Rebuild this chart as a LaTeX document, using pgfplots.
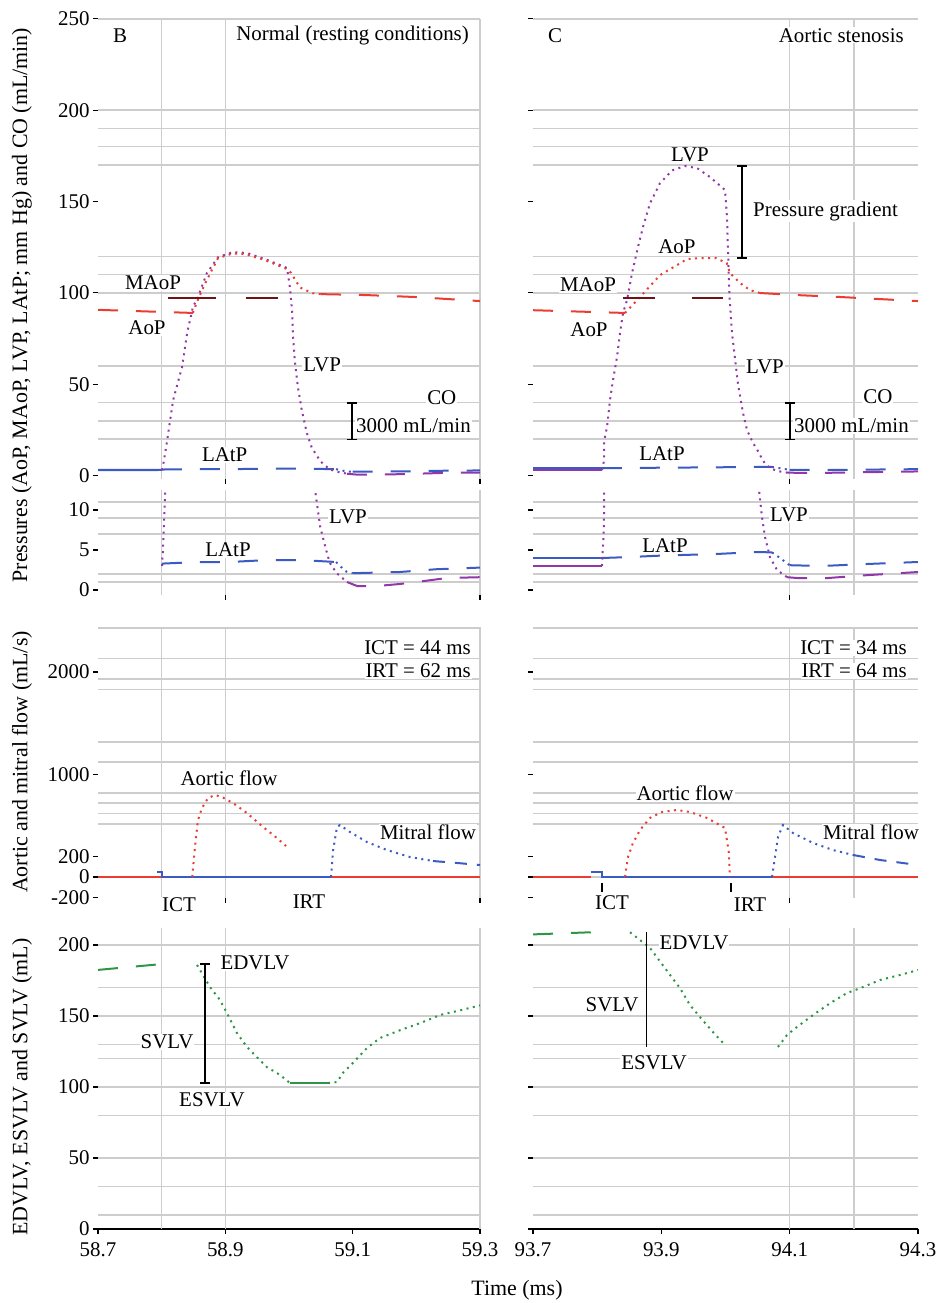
\documentclass[border=0pt]{standalone}
\usepackage{fontspec}
\setmainfont{Liberation Serif}
\usepackage{pgfplots}
\usepackage{pgfplotstable}
\pgfplotsset{compat=1.18}

\definecolor{aored}{RGB}{235,60,50}
\definecolor{lvpur}{RGB}{145,55,170}
\definecolor{laBlue}{RGB}{60,90,195}
\definecolor{maroonc}{RGB}{110,20,25}
\definecolor{vgreen}{RGB}{45,150,70}
\definecolor{gridg}{RGB}{205,205,205}

\newcommand\tlf{\fontsize{21}{24}\selectfont}
\newcommand\alf{\fontsize{22}{26}\selectfont}

\tikzset{
  curve/.style={dash pattern=on 2bp off 4.5bp, line width=2bp},
  flat/.style={dash pattern=on 20bp off 18bp, line width=2bp},
  base/.style={solid, line width=2.2bp},
  lbl/.style={fill=white, inner sep=1bp, font=\tlf},
  bar/.style={black, line width=1.5bp, mark=-, mark size=5bp, mark options={solid, line width=1.5bp}},
}

\pgfplotsset{
  panel/.style={
    scale only axis, anchor=south west,
    axis x line*=bottom, axis y line*=left,
    axis line style={draw=none},
    clip mode=individual,
    tick align=outside,
    major tick length=5bp,
    tick style={black, line width=1.2bp},
    ticklabel style={font=\tlf},
    /pgf/number format/assume math mode=true,
    /pgf/number format/1000 sep={},
    extra tick style={grid=major, major tick length=0pt},
    extra x tick labels={}, extra y tick labels={},
    major grid style={draw=gridg, line width=1.6bp},
  },
  leftp/.style={panel, width=382bp, xmin=58.7, xmax=59.3,
    extra x ticks={58.8,58.9,59.3}},
  rightp/.style={panel, width=385bp, xmin=93.7, xmax=94.3,
    extra x ticks={94.1,94.2}, yticklabels={}},
  timeaxis/.style={x axis line style={draw=black, line width=1.5bp},
    xticklabel style={yshift=-5bp}},
}

% ---------------- Normal (B) ----------------
\pgfplotstableread{
t p
58.700 3.0
58.8005 3.0
}\LVPpreB
\pgfplotstableread{
t p
58.8005 3.0
58.802 5.0
58.808 17.8
58.818 41.3
58.832 59.4
58.840 78.0
58.849 92.2
58.857 97.7
58.871 110.8
58.889 119.6
58.912 122.3
58.934 121.8
58.966 118.0
58.997 113.6
59.002 101.5
59.005 88.9
59.006 78.0
59.009 63.2
59.014 48.4
59.020 35.9
59.028 23.3
59.036 15.0
59.042 11.9
59.049 7.9
59.057 5.4
59.064 3.4
59.075 2.1
59.091 1.0
}\LVPcurB
\pgfplotstableread{
t p
59.091 1.0
59.107 0.5
59.138 0.5
59.174 0.75
59.210 1.1
59.248 1.5
59.300 1.6
}\LVPtailB
\pgfplotstableread{
t p
58.700 3.0
58.8005 3.1
}\LAPpreB
\pgfplotstableread{
t p
58.8005 3.3
58.829 3.4
58.860 3.5
58.907 3.5
58.967 3.75
59.017 3.75
59.074 3.5
}\LAPmainB
\pgfplotstableread{
t p
59.074 3.5
59.080 3.0
59.090 2.3
59.100 2.1
}\LAPcurB
\pgfplotstableread{
t p
59.100 2.1
59.174 2.25
59.232 2.6
59.300 2.8
}\LAPtailB
\pgfplotstableread{
t p
58.700 90.7
58.849 89.0
}\AoPpreB
\pgfplotstableread{
t p
58.849 89.0
58.8555 95.0
58.868 105.0
58.8885 119.0
58.912 121.6
58.931 121.2
58.962 118.0
58.997 113.0
59.003 111.0
59.017 103.0
59.037 99.8
59.050 99.3
}\AoPcurB
\pgfplotstableread{
t p
59.050 99.3
59.120 98.8
59.200 97.7
59.300 95.5
}\AoPtailB
\pgfplotstableread{
t f
58.848 0
58.8524 300
58.857 556
58.8634 673
58.8728 770
58.8838 800
58.8948 780
58.912 722
58.934 624
58.9592 488
58.9812 380
58.9953 302
}\AoFB
\pgfplotstableread{
t f
59.066 0
59.069 250
59.0754 488
59.0801 507
59.0958 439
59.1225 341
59.1539 263
59.190 195
59.2262 156
}\MiFB
\pgfplotstableread{
t f
59.2262 156
59.2639 137
59.300 117
}\MiFtailB
\pgfplotstableread{
t v
58.8555 186
58.8649 178.9
58.8759 170.4
58.8916 161.3
58.9026 152
58.9183 138
58.934 128.2
58.9497 121
58.9654 114
58.9859 108.5
59.0016 102.8
}\VejB
\pgfplotstableread{
t v
59.0613 102.8
59.0754 103.5
59.0848 110
59.1005 117
59.1225 127.5
59.1429 134.5
59.1743 140
59.2058 145
59.2372 150.7
59.2686 154
59.2953 157
59.300 157.5
}\VfillB

% ---------------- Aortic stenosis (C) ----------------
\pgfplotstableread{
t p
93.700 3.0
93.8075 3.0
}\LVPpreC
\pgfplotstableread{
t p
93.8075 3.0
93.8106 8.0
93.811 19
93.8153 26.5
93.820 41.3
93.8247 52.3
93.831 65
93.8356 78
93.8403 89
93.8465 96
93.8543 110.8
93.8636 125
93.8714 136
93.8823 149
93.8979 160
93.9166 167
93.937 169.4
93.9556 168.3
93.9758 163.4
93.9992 156.3
94.0023 141.5
94.006 99
94.0101 78
94.0148 64
94.0195 50
94.0273 34.2
94.0335 24.9
94.0429 17.8
94.0522 12.5
94.0569 9.1
94.0616 6.6
94.0694 4.1
94.0803 2.5
94.096 1.6
}\LVPcurC
\pgfplotstableread{
t p
94.096 1.6
94.1114 1.5
94.160 1.5
94.210 1.8
94.250 2.0
94.300 2.25
}\LVPtailC
\pgfplotstableread{
t p
93.700 4.0
93.8075 4.0
}\LAPpreC
\pgfplotstableread{
t p
93.8075 4.0
93.8434 4.1
93.900 4.3
93.985 4.5
94.050 4.75
94.0725 4.7
}\LAPmainC
\pgfplotstableread{
t p
94.0725 4.7
94.085 4.0
94.100 3.1
}\LAPcurC
\pgfplotstableread{
t p
94.100 3.1
94.150 3.0
94.220 3.25
94.300 3.5
}\LAPtailC
\pgfplotstableread{
t p
93.700 90.5
93.8434 89.0
}\AoPpreC
\pgfplotstableread{
t p
93.8434 89.0
93.8668 97.7
93.8979 109.7
93.9245 115.2
93.940 118.5
93.960 119.0
93.985 119.0
94.002 116.3
94.007 110.8
94.0226 105.4
94.038 101.5
94.0538 99.9
}\AoPcurC
\pgfplotstableread{
t p
94.0538 99.9
94.110 98.8
94.180 97.7
94.240 96.6
94.300 95.5
}\AoPtailC
\pgfplotstableread{
t f
93.8434 0
93.848 195
93.8558 332
93.8668 459
93.8823 576
93.901 634
93.9244 654
93.9447 634
93.9712 576
93.9992 478
94.005 250
94.007 0
}\AoFC
\pgfplotstableread{
t f
94.0725 0
94.0818 390
94.0896 507
94.1052 429
94.1364 332
94.1675 263
94.1987 215
}\MiFC
\pgfplotstableread{
t f
94.1987 215
94.2408 166
94.300 117
}\MiFtailC
\pgfplotstableread{
t v
93.8512 209
93.8823 198
93.9135 179
93.929 169.7
93.9447 157.7
93.9602 149.3
93.9805 138.7
93.9992 129.6
}\VejC
\pgfplotstableread{
t v
94.0818 128.2
94.0958 136.6
94.1114 142.3
94.1364 150.7
94.1628 159
94.1893 166.2
94.2143 170.4
94.2408 175.4
94.2719 178.9
94.300 182.4
}\VfillC

\begin{document}
\begin{tikzpicture}[font=\tlf]
\path[use as bounding box] (0,0) rectangle (941bp,-1303bp);

% axis titles
\node[rotate=90, font=\alf] at (22bp,-305bp) {Pressures (AoP, MAoP, LVP, LAtP; mm Hg) and CO (mL/min)};
\node[rotate=90, font=\alf] at (22bp,-762bp) {Aortic and mitral flow (mL/s)};
\node[rotate=90, font=\alf] at (22bp,-1087bp) {EDVLV, ESVLV and SVLV (mL)};
\node[font=\alf] at (517bp,-1290bp) {Time (ms)};

% ===== pressures, normal =====
\begin{axis}[leftp, at={(98bp,-479.2bp)}, height=460.4bp,
  ymin=-2, ymax=250, xtick={58.9,59.3}, xticklabels={},
  ytick={0,50,100,150,200,250},
  extra y ticks={250,200,190,180,170,120,110,100,60,40,30,20}]
  \node[lbl] at (axis cs:58.7346,241) {B};
  \node[lbl, anchor=east] at (axis cs:59.2843,241) {Normal (resting conditions)};
  \node[lbl] at (axis cs:58.7864,105.4) {MAoP};
  \node[lbl] at (axis cs:58.777,80.7) {AoP};
  \node[lbl] at (axis cs:59.052,60.5) {LVP};
  \node[lbl] at (axis cs:59.240,42.4) {CO};
  \node[lbl, anchor=west] at (axis cs:59.1037,27.1) {3000 mL/min};
  \node[lbl] at (axis cs:58.899,11.2) {LAtP};
  \addplot[lvpur, base] table[x=t,y=p] {\LVPpreB};
  \addplot[laBlue, base] table[x=t,y=p] {\LAPpreB};
  \addplot[laBlue, flat] table[x=t,y=p] {\LAPmainB};
  \addplot[laBlue, curve] table[x=t,y=p] {\LAPcurB};
  \addplot[laBlue, flat] table[x=t,y=p] {\LAPtailB};
  \addplot[lvpur, curve] table[x=t,y=p] {\LVPcurB};
  \addplot[lvpur, flat] table[x=t,y=p] {\LVPtailB};
  \addplot[aored, flat] table[x=t,y=p] {\AoPpreB};
  \addplot[aored, curve] table[x=t,y=p] {\AoPcurB};
  \addplot[aored, flat] table[x=t,y=p] {\AoPtailB};
  \addplot[maroonc, line width=2.2bp, dash pattern=on 48bp off 30bp] coordinates {(58.810,97) (58.983,97)};
  \addplot[bar] coordinates {(59.099,19.6) (59.099,39.8)};
\end{axis}

\begin{axis}[leftp, at={(98bp,-594.8bp)}, height=104.8bp,
  ymin=-0.6, ymax=12.5, xtick={58.9,59.3}, xticklabels={},
  ytick={0,5,10}, extra y ticks={11,9,7,2,1}]
  \node[lbl] at (axis cs:59.0927,9.1) {LVP};
  \node[lbl] at (axis cs:58.9042,5.0) {LAtP};
  \addplot[laBlue, flat] table[x=t,y=p] {\LAPmainB};
  \addplot[laBlue, curve] table[x=t,y=p] {\LAPcurB};
  \addplot[laBlue, flat] table[x=t,y=p] {\LAPtailB};
  \addplot[lvpur, curve] table[x=t,y=p] {\LVPcurB};
  \addplot[lvpur, flat] table[x=t,y=p] {\LVPtailB};
\end{axis}

% ===== pressures, aortic stenosis =====
\begin{axis}[rightp, at={(533bp,-479.2bp)}, height=460.4bp,
  ymin=-2, ymax=250, xtick={94.1}, xticklabels={},
  ytick={0,50,100,150,200,250},
  extra y ticks={250,200,190,180,170,120,110,100,60,40,30,20}]
  \node[lbl] at (axis cs:93.7343,241) {C};
  \node[lbl, anchor=east] at (axis cs:94.2797,241) {Aortic stenosis};
  \node[lbl] at (axis cs:93.9447,175.4) {LVP};
  \node[lbl, anchor=west] at (axis cs:94.0413,144.8) {Pressure gradient};
  \node[lbl] at (axis cs:93.9244,125) {AoP};
  \node[lbl] at (axis cs:93.7857,104.3) {MAoP};
  \node[lbl] at (axis cs:93.7873,79.6) {AoP};
  \node[lbl] at (axis cs:94.0616,59.4) {LVP};
  \node[lbl] at (axis cs:94.2376,43) {CO};
  \node[lbl, anchor=west] at (axis cs:94.1052,27.1) {3000 mL/min};
  \node[lbl] at (axis cs:93.901,11.8) {LAtP};
  \addplot[lvpur, base] table[x=t,y=p] {\LVPpreC};
  \addplot[laBlue, base] table[x=t,y=p] {\LAPpreC};
  \addplot[laBlue, flat] table[x=t,y=p] {\LAPmainC};
  \addplot[laBlue, curve] table[x=t,y=p] {\LAPcurC};
  \addplot[laBlue, flat] table[x=t,y=p] {\LAPtailC};
  \addplot[lvpur, curve] table[x=t,y=p] {\LVPcurC};
  \addplot[lvpur, flat] table[x=t,y=p] {\LVPtailC};
  \addplot[aored, flat] table[x=t,y=p] {\AoPpreC};
  \addplot[aored, curve] table[x=t,y=p] {\AoPcurC};
  \addplot[aored, flat] table[x=t,y=p] {\AoPtailC};
  \addplot[maroonc, line width=2.2bp, dash pattern=on 32bp off 37bp] coordinates {(93.840,97) (93.996,97)};
  \addplot[bar] coordinates {(94.0257,119) (94.0257,169.4)};
  \addplot[bar] coordinates {(94.1005,19.6) (94.1005,39.8)};
\end{axis}

\begin{axis}[rightp, at={(533bp,-594.8bp)}, height=104.8bp,
  ymin=-0.6, ymax=12.5, xtick={94.1}, xticklabels={},
  ytick={0,5,10}, extra y ticks={11,9,7,2,1}]
  \node[lbl] at (axis cs:94.099,9.4) {LVP};
  \node[lbl] at (axis cs:93.9057,5.6) {LAtP};
  \addplot[lvpur, base] table[x=t,y=p] {\LVPpreC};
  \addplot[laBlue, base] table[x=t,y=p] {\LAPpreC};
  \addplot[laBlue, flat] table[x=t,y=p] {\LAPmainC};
  \addplot[laBlue, curve] table[x=t,y=p] {\LAPcurC};
  \addplot[laBlue, flat] table[x=t,y=p] {\LAPtailC};
  \addplot[lvpur, curve] table[x=t,y=p] {\LVPcurC};
  \addplot[lvpur, flat] table[x=t,y=p] {\LVPtailC};
\end{axis}

% ===== flows =====
\begin{axis}[leftp, at={(98bp,-897.5bp)}, height=270.6bp,
  ymin=-200, ymax=2440, xtick={58.9,59.3}, xticklabels={},
  ytick={-200,0,200,1000,2000},
  extra y ticks={2430,2130,1930,1830,1320,1120,820,720,620,520,0}]
  \node[lbl, anchor=east] at (axis cs:59.2874,2234) {ICT = 44 ms};
  \node[lbl, anchor=east] at (axis cs:59.2874,2010) {IRT = 62 ms};
  \node[lbl] at (axis cs:58.9058,966) {Aortic flow};
  \node[lbl] at (axis cs:59.2183,439) {Mitral flow};
  \node[lbl] at (axis cs:58.8272,-273) {ICT};
  \node[lbl] at (axis cs:59.0314,-244) {IRT};
  \addplot[aored, base] coordinates {(58.70,0) (58.8005,0)};
  \addplot[laBlue, base] coordinates {(58.793,45) (58.8005,45) (58.8005,0) (59.066,0)};
  \addplot[aored, base] coordinates {(59.066,0) (59.30,0)};
  \addplot[aored, curve] table[x=t,y=f] {\AoFB};
  \addplot[laBlue, curve] table[x=t,y=f] {\MiFB};
  \addplot[laBlue, flat, dash pattern=on 12bp off 10bp] table[x=t,y=f] {\MiFtailB};
\end{axis}

\begin{axis}[rightp, at={(533bp,-897.5bp)}, height=270.6bp,
  ymin=-200, ymax=2440, xtick={94.1}, xticklabels={},
  ytick={-200,0,200,1000,2000},
  extra y ticks={2430,2130,1930,1830,1320,1120,820,720,620,520,0}]
  \node[lbl, anchor=east] at (axis cs:94.2844,2234) {ICT = 34 ms};
  \node[lbl, anchor=east] at (axis cs:94.2844,2010) {IRT = 64 ms};
  \node[lbl] at (axis cs:93.9369,820) {Aortic flow};
  \node[lbl] at (axis cs:94.2267,439) {Mitral flow};
  \node[lbl] at (axis cs:93.8231,-254) {ICT};
  \node[lbl] at (axis cs:94.0382,-273) {IRT};
  \draw[black, line width=1.3bp] (axis cs:93.8075,-60) -- (axis cs:93.8075,-150);
  \draw[black, line width=1.3bp] (axis cs:94.0086,-60) -- (axis cs:94.0086,-150);
  \addplot[aored, base] coordinates {(93.70,0) (93.79,0)};
  \addplot[laBlue, base] coordinates {(93.79,45) (93.8075,45) (93.8075,0) (94.0725,0)};
  \addplot[aored, base] coordinates {(94.0725,0) (94.30,0)};
  \addplot[aored, curve] table[x=t,y=f] {\AoFC};
  \addplot[laBlue, curve] table[x=t,y=f] {\MiFC};
  \addplot[laBlue, flat, dash pattern=on 12bp off 10bp] table[x=t,y=f] {\MiFtailC};
\end{axis}

% ===== volumes =====
\begin{axis}[leftp, timeaxis, at={(98bp,-1229bp)}, height=301bp,
  ymin=0, ymax=212,
  xtick={58.7,58.9,59.1,59.3}, xticklabels={58.7,58.9,59.1,59.3},
  ytick={0,50,100,150,200},
  extra y ticks={200,170,150,130,120,100,80,50,30,10}]
  \node[lbl] at (axis cs:58.9466,187.3) {EDVLV};
  \node[lbl] at (axis cs:58.8084,131.7) {SVLV};
  \node[lbl] at (axis cs:58.879,90.8) {ESVLV};
  \addplot[vgreen, flat] coordinates {(58.70,182.5) (58.80,186.6)};
  \addplot[vgreen, curve] table[x=t,y=v] {\VejB};
  \addplot[vgreen, base] coordinates {(59.0016,102.8) (59.0613,102.8)};
  \addplot[vgreen, curve] table[x=t,y=v] {\VfillB};
  \addplot[bar] coordinates {(58.868,102.8) (58.868,186.6)};
\end{axis}

\begin{axis}[rightp, timeaxis, at={(533bp,-1229bp)}, height=301bp,
  ymin=0, ymax=212,
  xtick={93.7,93.9,94.1,94.3}, xticklabels={93.7,93.9,94.1,94.3},
  ytick={0,50,100,150,200},
  extra y ticks={200,170,150,130,120,100,80,50,30,10}]
  \node[lbl] at (axis cs:93.9509,201.4) {EDVLV};
  \node[lbl] at (axis cs:93.8231,157.7) {SVLV};
  \node[lbl] at (axis cs:93.8886,116.9) {ESVLV};
  \addplot[vgreen, flat] coordinates {(93.70,207.5) (93.79,209)};
  \addplot[vgreen, curve] table[x=t,y=v] {\VejC};
  \addplot[vgreen, curve] table[x=t,y=v] {\VfillC};
  \addplot[black, line width=1.5bp] coordinates {(93.877,128.2) (93.877,209)};
\end{axis}
\end{tikzpicture}
\end{document}
